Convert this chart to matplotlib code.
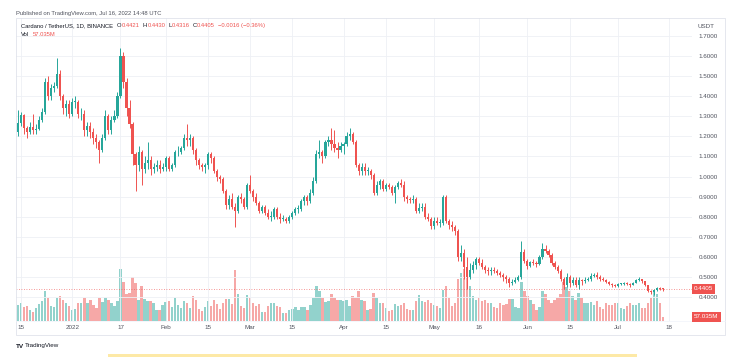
import numpy as np
import pandas as pd
import matplotlib
matplotlib.use("Agg")
import matplotlib.pyplot as plt
from matplotlib.patches import Rectangle

# --- ADA/USDT daily candles, Binance, 2021-12-14 .. 2022-07-16 ---
first_open = 1.224

close_dec = [1.265, 1.305, 1.24, 1.22, 1.245, 1.23, 1.235, 1.28, 1.32, 1.47, 1.40, 1.44, 1.45, 1.51, 1.40, 1.34, 1.36, 1.31]
high_dec = [1.33, 1.32, 1.31, 1.25, 1.27, 1.31, 1.26, 1.30, 1.34, 1.49, 1.50, 1.46, 1.47, 1.59, 1.53, 1.41, 1.38, 1.38]
low_dec = [1.20, 1.25, 1.21, 1.19, 1.21, 1.21, 1.21, 1.23, 1.27, 1.31, 1.38, 1.38, 1.42, 1.44, 1.38, 1.31, 1.30, 1.29]

close_jan = [1.37, 1.37, 1.31, 1.31, 1.23, 1.25, 1.22, 1.19, 1.17, 1.13,
             1.19, 1.30, 1.23, 1.28, 1.30, 1.40, 1.60, 1.47, 1.34, 1.26,
             1.11, 1.06, 1.12, 1.04, 1.07, 1.08, 1.04, 1.05, 1.06, 1.04, 1.05]
high_jan = [1.39, 1.40, 1.38, 1.34, 1.33, 1.27, 1.27, 1.24, 1.21, 1.18,
            1.21, 1.33, 1.31, 1.30, 1.33, 1.42, 1.64, 1.62, 1.49, 1.38,
            1.27, 1.12, 1.15, 1.13, 1.10, 1.17, 1.10, 1.07, 1.08, 1.08, 1.07]
low_jan = [1.30, 1.34, 1.29, 1.28, 1.20, 1.20, 1.19, 1.16, 1.14, 1.07,
           1.12, 1.18, 1.21, 1.21, 1.27, 1.29, 1.39, 1.44, 1.30, 1.24,
           1.06, 0.93, 1.03, 0.96, 1.02, 1.04, 1.01, 1.02, 1.03, 1.02, 1.03]

close_feb = [1.09, 1.04, 1.06, 1.12, 1.12, 1.14, 1.19, 1.18, 1.19, 1.13,
             1.08, 1.06, 1.05, 1.06, 1.11, 1.09, 1.03, 1.00, 0.99, 0.93,
             0.86, 0.89, 0.85, 0.83, 0.90, 0.89, 0.85, 0.96]
high_feb = [1.10, 1.10, 1.07, 1.13, 1.15, 1.15, 1.21, 1.26, 1.21, 1.20,
            1.14, 1.09, 1.07, 1.07, 1.12, 1.12, 1.10, 1.04, 1.01, 1.00,
            0.94, 0.91, 0.92, 0.87, 0.91, 0.92, 0.90, 0.97]
low_feb = [1.03, 1.03, 1.03, 1.05, 1.10, 1.11, 1.13, 1.15, 1.15, 1.11,
           1.06, 1.04, 1.03, 1.02, 1.04, 1.07, 1.02, 0.98, 0.97, 0.92,
           0.84, 0.84, 0.84, 0.75, 0.82, 0.87, 0.84, 0.84]

close_mar = [0.93, 0.90, 0.87, 0.83, 0.85, 0.82, 0.80, 0.80, 0.84, 0.80,
             0.79, 0.79, 0.78, 0.80, 0.82, 0.84, 0.84, 0.88, 0.90, 0.88,
             0.92, 0.98, 1.11, 1.12, 1.10, 1.17, 1.18, 1.16, 1.14, 1.13, 1.15]
high_mar = [1.01, 0.94, 0.92, 0.88, 0.86, 0.86, 0.84, 0.83, 0.85, 0.85,
            0.82, 0.81, 0.80, 0.81, 0.83, 0.85, 0.86, 0.89, 0.91, 0.91,
            0.94, 1.00, 1.13, 1.18, 1.13, 1.18, 1.20, 1.24, 1.23, 1.17, 1.17]
low_mar = [0.92, 0.88, 0.86, 0.82, 0.82, 0.81, 0.79, 0.78, 0.79, 0.79,
           0.77, 0.78, 0.77, 0.77, 0.79, 0.81, 0.82, 0.83, 0.86, 0.86,
           0.87, 0.91, 0.97, 1.09, 1.07, 1.09, 1.15, 1.13, 1.12, 1.09, 1.12]

close_apr = [1.16, 1.20, 1.21, 1.17, 1.06, 1.03, 1.05, 1.03, 1.03, 1.01,
             0.92, 0.96, 0.98, 0.94, 0.96, 0.95, 0.92, 0.95, 0.97, 0.96,
             0.90, 0.89, 0.885, 0.89, 0.83, 0.845, 0.85, 0.80, 0.79, 0.755]
high_apr = [1.17, 1.22, 1.24, 1.22, 1.18, 1.07, 1.07, 1.07, 1.05, 1.04,
            1.02, 0.98, 0.99, 0.99, 0.97, 0.97, 0.96, 0.96, 0.98, 0.99,
            0.98, 0.91, 0.90, 0.91, 0.90, 0.87, 0.87, 0.87, 0.82, 0.80]
low_apr = [1.11, 1.15, 1.18, 1.16, 1.05, 1.01, 1.01, 1.01, 1.01, 0.99,
           0.91, 0.91, 0.94, 0.93, 0.93, 0.94, 0.91, 0.87, 0.94, 0.95,
           0.88, 0.87, 0.87, 0.87, 0.82, 0.82, 0.83, 0.79, 0.78, 0.74]

close_may = [0.78, 0.77, 0.77, 0.90, 0.78, 0.76, 0.75, 0.73, 0.60, 0.62,
             0.55, 0.50, 0.535, 0.56, 0.59, 0.57, 0.55, 0.535, 0.53, 0.535,
             0.53, 0.52, 0.51, 0.50, 0.49, 0.47, 0.475, 0.485, 0.50, 0.625, 0.58]
high_may = [0.80, 0.80, 0.79, 0.91, 0.91, 0.79, 0.78, 0.76, 0.74, 0.66,
            0.64, 0.60, 0.57, 0.58, 0.60, 0.60, 0.59, 0.56, 0.55, 0.55,
            0.55, 0.54, 0.53, 0.52, 0.51, 0.50, 0.49, 0.50, 0.51, 0.68, 0.64]
low_may = [0.74, 0.76, 0.75, 0.76, 0.77, 0.74, 0.73, 0.71, 0.58, 0.58,
           0.49, 0.44, 0.49, 0.52, 0.54, 0.56, 0.54, 0.52, 0.51, 0.51,
           0.52, 0.51, 0.50, 0.48, 0.47, 0.45, 0.46, 0.47, 0.48, 0.49, 0.57]

close_jun = [0.555, 0.575, 0.57, 0.565, 0.60, 0.64, 0.63, 0.61, 0.57, 0.55,
             0.53, 0.49, 0.46, 0.50, 0.47, 0.485, 0.46, 0.485, 0.48, 0.485,
             0.49, 0.505, 0.51, 0.50, 0.49, 0.485, 0.475, 0.465, 0.46, 0.455]
high_jun = [0.59, 0.58, 0.59, 0.58, 0.61, 0.67, 0.66, 0.64, 0.62, 0.58,
            0.56, 0.54, 0.50, 0.52, 0.51, 0.50, 0.50, 0.50, 0.49, 0.50,
            0.50, 0.52, 0.52, 0.525, 0.51, 0.50, 0.49, 0.48, 0.47, 0.465]
low_jun = [0.54, 0.55, 0.56, 0.55, 0.56, 0.59, 0.62, 0.60, 0.56, 0.54,
           0.52, 0.48, 0.44, 0.45, 0.45, 0.46, 0.45, 0.44, 0.46, 0.47,
           0.48, 0.48, 0.50, 0.49, 0.48, 0.48, 0.47, 0.46, 0.45, 0.45]

close_jul = [0.465, 0.465, 0.47, 0.465, 0.46, 0.47, 0.485, 0.49, 0.48, 0.46,
             0.43, 0.425, 0.435, 0.444, 0.4421, 0.4405]
high_jul = [0.47, 0.47, 0.475, 0.475, 0.47, 0.475, 0.49, 0.50, 0.49, 0.48,
            0.46, 0.435, 0.44, 0.45, 0.45, 0.443]
low_jul = [0.45, 0.46, 0.46, 0.46, 0.45, 0.46, 0.47, 0.48, 0.47, 0.455,
           0.425, 0.415, 0.41, 0.43, 0.435, 0.4316]

# volume, millions of ADA
vol_dec = [230, 250, 200, 220, 150, 130, 190, 240, 280, 420, 330, 220, 200, 330, 360, 300, 260, 220]
vol_jan = [160, 170, 250, 260, 330, 260, 300, 230, 180, 330,
           270, 330, 300, 260, 220, 280, 740, 560, 380, 400,
           620, 540, 300, 500, 320, 280, 280, 250, 160, 150, 230]
vol_feb = [270, 280, 200, 330, 230, 180, 290, 260, 190, 360,
           300, 170, 140, 200, 280, 220, 300, 240, 170, 250,
           320, 320, 240, 720, 380, 210, 190, 370]
vol_mar = [330, 260, 220, 240, 130, 130, 220, 250, 260, 220,
           200, 110, 110, 150, 170, 200, 150, 200, 200, 150,
           230, 330, 500, 420, 330, 270, 280, 380, 330, 300, 300]
vol_apr = [280, 300, 220, 350, 330, 420, 300, 280, 160, 170,
           400, 330, 250, 250, 180, 140, 150, 240, 210, 230,
           250, 170, 150, 160, 280, 370, 280, 270, 300, 250]
vol_may = [230, 220, 180, 440, 500, 330, 220, 250, 600, 680,
           740, 700, 500, 350, 300, 330, 280, 300, 260, 250,
           200, 180, 250, 230, 240, 320, 320, 200, 180, 550, 420]
vol_jun = [350, 300, 240, 160, 200, 420, 380, 300, 250, 300,
           330, 380, 560, 480, 420, 350, 300, 400, 330, 250,
           260, 270, 230, 280, 200, 170, 250, 230, 230, 250]
vol_jul = [250, 180, 170, 220, 250, 230, 230, 250, 180, 180, 250, 330, 420, 380, 260, 57.035]

tick_dates = ["2021-12-15", "2022-01-01", "2022-01-17", "2022-02-01", "2022-02-15",
              "2022-03-01", "2022-03-15", "2022-04-01", "2022-04-15", "2022-05-01",
              "2022-05-16", "2022-06-01", "2022-06-15", "2022-07-01", "2022-07-18"]
tick_labels = ["15", "2022", "17", "Feb", "15", "Mar", "15", "Apr", "15", "May",
               "16", "Jun", "15", "Jul", "18"]
price_ticks = [0.4, 0.5, 0.6, 0.7, 0.8, 0.9, 1.0, 1.1, 1.2, 1.3, 1.4, 1.5, 1.6, 1.7]

close = np.array(close_dec + close_jan + close_feb + close_mar + close_apr + close_may + close_jun + close_jul)
high = np.array(high_dec + high_jan + high_feb + high_mar + high_apr + high_may + high_jun + high_jul)
low = np.array(low_dec + low_jan + low_feb + low_mar + low_apr + low_may + low_jun + low_jul)
vol = np.array(vol_dec + vol_jan + vol_feb + vol_mar + vol_apr + vol_may + vol_jun + vol_jul)
opn = np.concatenate([[first_open], close[:-1]])

ref = pd.Timestamp("2021-12-15")
dates = pd.date_range("2021-12-14", periods=len(close), freq="D")
x = np.array((dates - ref).days, dtype=float)
tx = np.array((pd.to_datetime(tick_dates) - ref).days, dtype=float)

UP, DOWN = "#26a69a", "#ef5350"
TXT = "#131722"
LBL = "#50535e"
up = close >= opn
col = np.where(up, UP, DOWN)

plt.rcParams["font.family"] = ["Liberation Sans", "DejaVu Sans"]

W, H = 743, 358
fig = plt.figure(figsize=(W / 100, H / 100), dpi=100)


def box(x0, y0, x1, y1):
    return [x0 / W, 1 - y1 / H, (x1 - x0) / W, (y1 - y0) / H]


def fx(px):
    return px / W


def fy(py):
    return 1 - py / H


rect = box(16, 18, 692, 321)
axv = fig.add_axes(rect)
ax = fig.add_axes(rect, sharex=axv)
ax.patch.set_alpha(0)

xlim = (-1.66, 222.6)
ylim = (1.7 - (321 - 36) / 200.8, 1.7 + (36 - 18) / 200.8)

# --- volume pane (behind candles) ---
vcol = [(0.149, 0.651, 0.604, 0.5) if u else (0.937, 0.325, 0.314, 0.5) for u in up]
axv.bar(x, vol, width=0.8, color=vcol, linewidth=0)
axv.set_ylim(0, 740 * 303 / 52)
axv.set_yticks([])
for s in axv.spines.values():
    s.set_visible(False)

# --- candles ---
ax.vlines(x, np.minimum(low, np.minimum(opn, close)), np.maximum(high, np.maximum(opn, close)),
          color=col, lw=0.7, zorder=3)
body_lo = np.minimum(opn, close)
body_h = np.maximum(np.abs(close - opn), 0.004)
ax.bar(x, body_h, bottom=body_lo, width=0.7, color=col, linewidth=0, zorder=4)

ax.set_xlim(*xlim)
ax.set_ylim(*ylim)
for s in ax.spines.values():
    s.set_visible(False)

ax.set_yticks(price_ticks)
ax.set_yticklabels([f"{p:.4f}" for p in price_ticks])
ax.yaxis.tick_right()
ax.tick_params(axis="y", length=0, pad=5, labelsize=4.5, labelcolor=LBL)
ax.set_xticks(tx)
ax.set_xticklabels(tick_labels)
ax.tick_params(axis="x", length=0, pad=3, labelsize=4.5, labelcolor=LBL)
ax.grid(True, color="#eef0f5", lw=0.6, zorder=0)
axv.tick_params(axis="x", length=0, labelbottom=False)

# last price line + labels
last = close[-1]
ax.axhline(last, color=DOWN, ls=(0, (1, 2)), lw=0.6, alpha=0.8, zorder=2)
fig.text(fx(694), fy(289), f"{last:.4f}", fontsize=4.5, color="white", va="center", ha="left",
         bbox=dict(boxstyle="square,pad=0.35", fc=DOWN, ec="none"))
fig.text(fx(694), fy(317), f"{vol[-1]:.3f}M", fontsize=4.5, color="white", va="center", ha="left",
         bbox=dict(boxstyle="square,pad=0.35", fc=DOWN, ec="none"))
fig.text(fx(697), fy(26), "USDT", fontsize=4.5, color=LBL, va="center", ha="left")

# frame around the chart
fig.patches.append(Rectangle((fx(16), fy(335)), fx(725) - fx(16), fy(18) - fy(335),
                             transform=fig.transFigure, fill=False, ec="#e0e3eb", lw=0.6))
fig.add_artist(plt.Line2D([fx(16), fx(725)], [fy(321), fy(321)], color="#f0f3fa", lw=0.5))

# --- header ---
fs = 4.2
renderer = fig.canvas.get_renderer()


def text_row(px, py, pieces):
    # lay out (text, colour, gap_after_px) pieces left to right
    for s, c, gap in pieces:
        t = fig.text(fx(px), fy(py), s, fontsize=fs, color=c, va="center")
        px += t.get_window_extent(renderer).width + gap


fig.text(fx(16), fy(13), "Published on TradingView.com, Jul 16, 2022 14:48 UTC",
         fontsize=fs, color=LBL, va="center")
text_row(21, 25.5, [("Cardano / TetherUS, 1D, BINANCE", TXT, 4),
                    ("O", TXT, 0.3), ("0.4421", DOWN, 3),
                    ("H", TXT, 0.3), ("0.4430", DOWN, 3),
                    ("L", TXT, 0.3), ("0.4316", DOWN, 3),
                    ("C", TXT, 0.3), ("0.4405", DOWN, 3),
                    ("\u22120.0016 (\u22120.36%)", DOWN, 0)])
text_row(21, 34.3, [("Vol", TXT, 4), ("57.035M", DOWN, 0)])

# --- footer ---
fig.text(fx(16), fy(346), "TV", fontsize=4.6, color=TXT, va="center", fontweight="bold")
fig.text(fx(25), fy(346), "TradingView", fontsize=4.5, color=TXT, va="center")
fig.patches.append(Rectangle((fx(108), fy(357)), fx(637) - fx(108), fy(354) - fy(357),
                             transform=fig.transFigure, fc="#fde9a6", ec="none"))

fig.savefig("out.png", dpi=100, facecolor="white")
